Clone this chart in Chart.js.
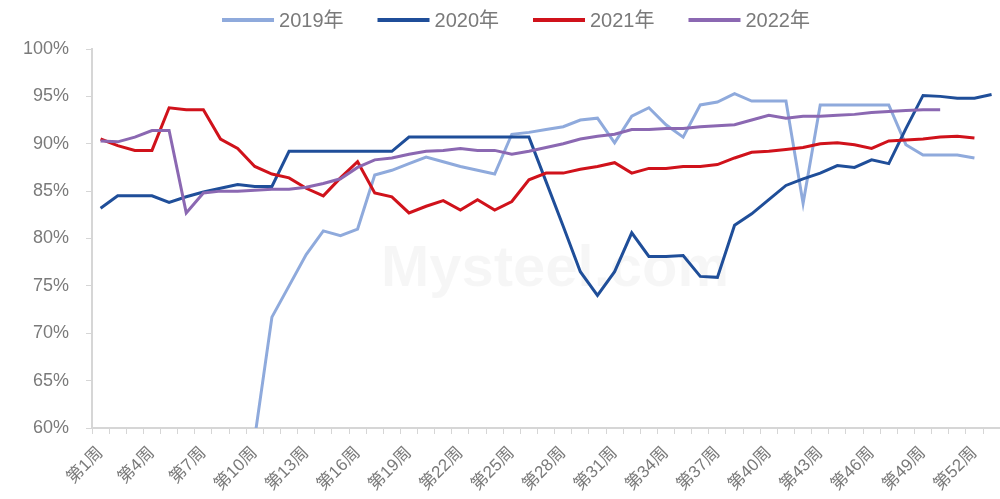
<!DOCTYPE html>
<html>
<head>
<meta charset="utf-8">
<script src="https://cdn.jsdelivr.net/npm/chart.js@4.4.1/dist/chart.umd.min.js"></script>
<style>
html, body { margin: 0; padding: 0; background: #fff; overflow: hidden; }
#wrap { width: 1015px; height: 499px; position: relative; }
</style>
</head>
<body>
<div id="wrap"><canvas id="lineChart"></canvas></div>
<script>
const weeks = ['第1周','第2周','第3周','第4周','第5周','第6周','第7周','第8周','第9周','第10周',
    '第11周','第12周','第13周','第14周','第15周','第16周','第17周','第18周','第19周','第20周',
    '第21周','第22周','第23周','第24周','第25周','第26周','第27周','第28周','第29周','第30周',
    '第31周','第32周','第33周','第34周','第35周','第36周','第37周','第38周','第39周','第40周',
    '第41周','第42周','第43周','第44周','第45周','第46周','第47周','第48周','第49周','第50周',
    '第51周','第52周','第53周'];

const seriesNames = ['2019年', '2020年', '2021年', '2022年'];

const y2019 = [null, null, null, null, null, null, null, null, null, 59.0,
    71.7, 75.0, 78.3, 80.8, 80.3, 81.0, 86.7, 87.2, 87.9, 88.6,
    88.1, 87.6, 87.2, 86.8, 91.0, 91.2, 91.5, 91.8, 92.5, 92.7,
    90.1, 92.9, 93.8, 92.0, 90.7, 94.1, 94.4, 95.3, 94.5, 94.5,
    94.5, 83.7, 94.1, 94.1, 94.1, 94.1, 94.1, 89.9, 88.8, 88.8,
    88.8, 88.5, null];

const y2020 = [83.2, 84.5, 84.5, 84.5, 83.8, 84.4, 84.9, 85.3, 85.7, 85.5,
    85.5, 89.2, 89.2, 89.2, 89.2, 89.2, 89.2, 89.2, 90.7, 90.7,
    90.7, 90.7, 90.7, 90.7, 90.7, 90.7, 86.0, 81.3, 76.5, 74.0,
    76.5, 80.6, 78.1, 78.1, 78.2, 76.0, 75.9, 81.4, 82.6, 84.1,
    85.6, 86.3, 86.9, 87.7, 87.5, 88.3, 87.9, 91.6, 95.1, 95.0,
    94.8, 94.8, 95.2];

const y2021 = [90.5, 89.8, 89.3, 89.3, 93.8, 93.6, 93.6, 90.5, 89.5, 87.6,
    86.8, 86.4, 85.3, 84.5, 86.4, 88.1, 84.8, 84.4, 82.7, 83.4,
    84.0, 83.0, 84.1, 83.0, 83.9, 86.2, 86.9, 86.9, 87.3, 87.6,
    88.0, 86.9, 87.4, 87.4, 87.6, 87.6, 87.8, 88.5, 89.1, 89.2,
    89.4, 89.6, 90.0, 90.1, 89.9, 89.5, 90.3, 90.4, 90.5, 90.7,
    90.8, 90.6, null];

const y2022 = [90.3, 90.2, 90.7, 91.4, 91.4, 82.7, 84.8, 85.0, 85.0, 85.1,
    85.2, 85.2, 85.4, 85.8, 86.3, 87.5, 88.3, 88.5, 88.9, 89.2,
    89.3, 89.5, 89.3, 89.3, 88.9, 89.2, 89.6, 90.0, 90.5, 90.8,
    91.0, 91.5, 91.5, 91.6, 91.6, 91.8, 91.9, 92.0, 92.5, 93.0,
    92.7, 92.9, 92.9, 93.0, 93.1, 93.3, 93.4, 93.5, 93.6, 93.6,
    null, null, null];

const colors = ['#8FAADC', '#1F4E99', '#D0121B', '#8B68B2'];
const textColor = '#7a7a7a';
const axisColor = '#d6d6d6';

// legend drawn on top, centred like the original
const topLegend = {
    id: 'topLegend',
    afterDraw(chart) {
        const ctx = chart.ctx;
        ctx.save();
        ctx.font = '20px "Liberation Sans", "Noto Sans CJK SC"';
        ctx.textBaseline = 'middle';
        const lineW = 52, gap = 5, itemGap = 34, cy = 20;
        const items = chart.data.datasets.map(ds => ({
            text: ds.label,
            color: ds.borderColor,
            w: lineW + gap + ctx.measureText(ds.label).width
        }));
        const total = items.reduce((s, it) => s + it.w, 0) + itemGap * (items.length - 1);
        let x = 516 - total / 2;
        items.forEach(it => {
            ctx.fillStyle = it.color;
            ctx.fillRect(x, cy - 2, lineW, 4);
            ctx.fillStyle = textColor;
            ctx.fillText(it.text, x + lineW + gap, cy + 1);
            x += it.w + itemGap;
        });
        ctx.restore();
    }
};

// faint site watermark behind the lines
const watermark = {
    id: 'watermark',
    beforeDatasetsDraw(chart) {
        const ctx = chart.ctx;
        ctx.save();
        ctx.font = 'bold 58px "Liberation Sans"';
        ctx.fillStyle = 'rgba(0,0,0,0.035)';
        ctx.textAlign = 'center';
        ctx.textBaseline = 'middle';
        ctx.fillText('Mysteel.com', 555, 270);
        ctx.restore();
    }
};

const seriesData = [y2019, y2020, y2021, y2022];

const ctx = document.getElementById('lineChart').getContext('2d');
window.myChart = new Chart(ctx, {
    type: 'line',
    data: {
        labels: weeks,
        datasets: seriesData.map((d, i) => ({
            label: seriesNames[i],
            data: d,
            borderColor: colors[i],
            backgroundColor: colors[i],
            borderWidth: 3,
            pointRadius: 0,
            tension: 0,
            order: 4 - i
        }))
    },
    options: {
        responsive: true,
        maintainAspectRatio: false,
        animation: false,
        layout: { padding: { top: 49, right: 0, bottom: 0, left: 0 } },
        plugins: {
            legend: { display: false },
            tooltip: { enabled: false }
        },
        scales: {
            x: {
                offset: true,
                grid: {
                    offset: true,
                    drawOnChartArea: false,
                    drawTicks: true,
                    tickLength: 6,
                    color: axisColor
                },
                border: { display: true, color: axisColor, width: 2 },
                ticks: {
                    autoSkip: false,
                    maxRotation: 45,
                    minRotation: 45,
                    padding: 9,
                    color: textColor,
                    font: { family: '"Liberation Sans", "Noto Sans CJK SC"', size: 17 },
                    callback: function(value, index) {
                        return index % 3 === 0 ? weeks[index] : '';
                    }
                },
                afterFit: function(scale) { scale.height = 71; }
            },
            y: {
                min: 60,
                max: 100,
                grid: {
                    drawOnChartArea: false,
                    drawTicks: true,
                    tickLength: 6,
                    color: axisColor
                },
                border: { display: true, color: axisColor, width: 2 },
                ticks: {
                    stepSize: 5,
                    padding: 17,
                    color: textColor,
                    font: { family: '"Liberation Sans"', size: 18 },
                    callback: v => v + '%'
                },
                afterFit: function(scale) { scale.width = 92; }
            }
        }
    },
    plugins: [watermark, topLegend]
});
</script>
</body>
</html>
